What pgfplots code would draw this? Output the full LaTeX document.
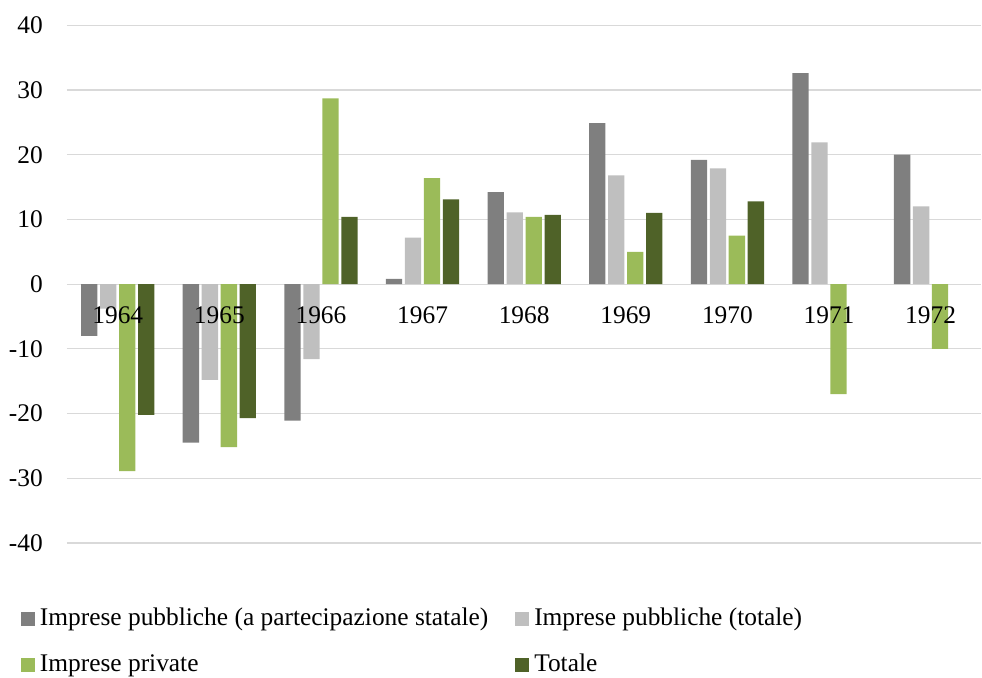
\documentclass[border=0pt]{standalone}
\usepackage{pgfplots}
\pgfplotsset{compat=1.18}
\usepackage{fontspec}
\setmainfont{Liberation Serif}
\definecolor{cA}{HTML}{7F7F7F}
\definecolor{cB}{HTML}{BFBFBF}
\definecolor{cC}{HTML}{9BBB59}
\definecolor{cD}{HTML}{4F6228}
\definecolor{gridc}{HTML}{D9D9D9}
\pgfplotsset{
  commonframe/.style={
    scale only axis,
    width=915bp, height=518bp,
    xmin=-0.5, xmax=8.5,
    ymin=-40, ymax=40,
    hide obscured x ticks=false,
    hide obscured y ticks=false,
    major tick length=0pt,
    xtick={0,1,...,8},
  },
}
\begin{document}
\begin{tikzpicture}[x=1bp,y=1bp]
\begin{axis}[
  name=ax,
  commonframe,
  ybar=2.7bp,
  bar width=16.3bp,
  axis x line=middle,
  axis y line=left,
  axis line style={-, draw=gridc, line width=1.2bp},
  y axis line style={draw=none},
  ymajorgrids,
  grid style={draw=gridc, line width=1.2bp},
  xticklabels={},
  ytick={-40,-30,...,40},
  yticklabels={-40,-30,-20,-10,0,10,20,30,40},
  yticklabel style={font=\fontsize{25.5}{30}\selectfont, inner sep=0pt, anchor=east, xshift=-24bp},
  legend columns=2,
  legend style={draw=none, at={(axis description cs:0,0)}, anchor=north west,
    xshift=-46bp, yshift=-68.7bp, inner sep=0pt, outer sep=0pt,
    font=\fontsize{25.5}{30}\selectfont,
    /tikz/every even column/.append style={column sep=27bp},
    row sep=32bp,
    nodes={inner sep=0pt, text height=14bp, text depth=0pt}},
  legend cell align=left,
  legend image code/.code={\fill[#1] (0bp,-7bp) rectangle (14bp,7bp); \path (19bp,0bp);},
]
\addplot[fill=cA, draw=none] coordinates {(0,-8.0) (1,-24.5) (2,-21.1) (3,0.8) (4,14.2) (5,24.9) (6,19.2) (7,32.6) (8,20.0)};
\addplot[fill=cB, draw=none] coordinates {(0,-3.8) (1,-14.8) (2,-11.6) (3,7.2) (4,11.1) (5,16.8) (6,17.9) (7,21.9) (8,12.0)};
\addplot[fill=cC, draw=none] coordinates {(0,-28.9) (1,-25.2) (2,28.7) (3,16.4) (4,10.4) (5,5.0) (6,7.5) (7,-17.0) (8,-10.0)};
\addplot[fill=cD, draw=none] coordinates {(0,-20.2) (1,-20.7) (2,10.4) (3,13.1) (4,10.7) (5,11.0) (6,12.8)};
\legend{Imprese pubbliche (a partecipazione statale),Imprese pubbliche (totale),Imprese private,Totale}
\end{axis}
\begin{axis}[
  commonframe,
  axis x line=middle,
  axis y line=none,
  axis line style={draw=none},
  ytick=\empty,
  xticklabels={1964,1965,1966,1967,1968,1969,1970,1971,1972},
  xticklabel style={font=\fontsize{25.5}{30}\selectfont, inner sep=0pt, anchor=north, yshift=-22bp},
]
\end{axis}
\path[use as bounding box] (ax.south west) ++(-67bp,-134.7bp) rectangle ++(982bp,678bp);
\end{tikzpicture}
\end{document}
